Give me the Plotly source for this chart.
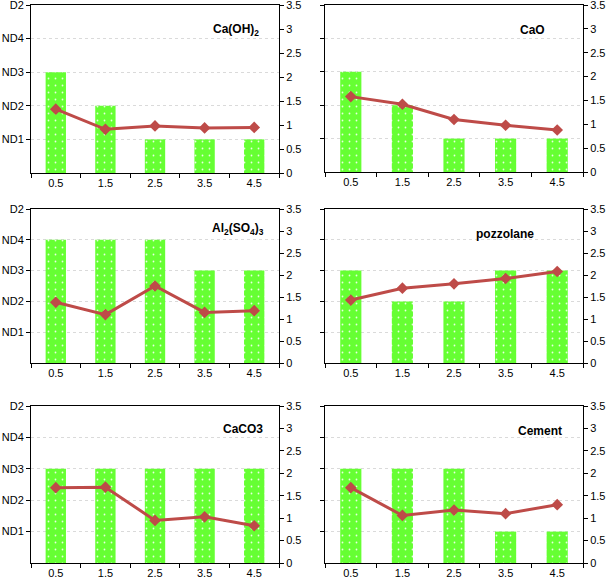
import plotly.graph_objects as go

W, H = 608, 580

X_CATS = ["0.5", "1.5", "2.5", "3.5", "4.5"]
LEVELS = ["ND1", "ND2", "ND3", "ND4", "D2"]
RIGHT_TICKS = [0, 0.5, 1, 1.5, 2, 2.5, 3, 3.5]

titles = ["Ca(OH)<sub>2</sub>", "CaO", "Al<sub>2</sub>(SO<sub>4</sub>)<sub>3</sub>",
          "pozzolane", "CaCO3", "Cement"]

bars_caoh2 = ["ND3", "ND2", "ND1", "ND1", "ND1"]
bars_cao = ["ND3", "ND2", "ND1", "ND1", "ND1"]
bars_al2so43 = ["ND4", "ND4", "ND4", "ND3", "ND3"]
bars_pozzolane = ["ND3", "ND2", "ND2", "ND3", "ND3"]
bars_caco3 = ["ND3", "ND3", "ND3", "ND3", "ND3"]
bars_cement = ["ND3", "ND3", "ND3", "ND1", "ND1"]

line_caoh2 = [1.33, 0.91, 0.98, 0.94, 0.95]
line_cao = [1.58, 1.42, 1.10, 0.98, 0.88]
line_al2so43 = [1.38, 1.10, 1.75, 1.15, 1.19]
line_pozzolane = [1.43, 1.70, 1.80, 1.92, 2.08]
line_caco3 = [1.68, 1.69, 0.95, 1.03, 0.83]
line_cement = [1.68, 1.06, 1.18, 1.10, 1.30]

bars_all = [bars_caoh2, bars_cao, bars_al2so43, bars_pozzolane, bars_caco3, bars_cement]
lines_all = [line_caoh2, line_cao, line_al2so43, line_pozzolane, line_caco3, line_cement]

# panel pixel boxes: (left, right, top, bottom)
boxes = [
    (31, 279, 5, 173), (325, 583, 5, 172),
    (31, 279, 209, 363), (325, 583, 209, 363),
    (31, 279, 406, 563), (325, 583, 406, 563),
]
title_pos = [(236, 30), (532, 30), (238, 229), (505, 234), (243, 429), (540, 431)]

GREEN = "#66FF33"
RED = "#BE4B48"
FONT = "Liberation Sans, Arial, sans-serif"

fig = go.Figure()
layout = dict(width=W, height=H, margin=dict(l=0, r=0, t=0, b=0, autoexpand=False),
              paper_bgcolor="white", plot_bgcolor="white", showlegend=False,
              font=dict(family=FONT, size=11, color="black"))
annotations = []

for i in range(6):
    n = i + 1
    xa = "x" if n == 1 else f"x{n}"
    ya = "y" if n == 1 else f"y{n}"
    yr = f"y{n + 6}"
    l, r, t, b = boxes[i]
    xd = [l / W, r / W]
    yd = [1 - b / H, 1 - t / H]

    bar_y = [LEVELS.index(v) + 1 for v in bars_all[i]]
    fig.add_trace(go.Bar(
        x=X_CATS, y=bar_y, xaxis=xa, yaxis=ya, width=0.41,
        marker=dict(color=GREEN, line=dict(width=0),
                    pattern=dict(shape=".", fgcolor="#E8FFE0", bgcolor=GREEN,
                                 size=7, solidity=0.05, fillmode="replace")),
    ))
    fig.add_trace(go.Scatter(
        x=X_CATS, y=lines_all[i], xaxis=xa, yaxis=yr, mode="lines+markers",
        line=dict(color=RED, width=3),
        marker=dict(symbol="diamond", size=9, color=RED),
    ))

    xkey = "xaxis" if n == 1 else f"xaxis{n}"
    ykey = "yaxis" if n == 1 else f"yaxis{n}"
    layout[xkey] = dict(domain=xd, anchor=ya, type="category", tickson="boundaries",
                        ticks="outside", ticklen=4, tickcolor="black",
                        showline=True, linecolor="black", linewidth=1, mirror=True,
                        showgrid=False, tickfont=dict(size=11), range=[-0.5, 4.5],
                        automargin=False, ticklabeloverflow="allow")
    layout[ykey] = dict(domain=yd, anchor=xa, range=[0, 5],
                        tickvals=[1, 2, 3, 4, 5], ticktext=LEVELS,
                        showticklabels=(i % 2 == 0),
                        ticks="outside", ticklen=4, tickcolor="black",
                        showline=True, linecolor="black", linewidth=1,
                        showgrid=True, gridcolor="#DADADA", griddash="dot",
                        gridwidth=1, zeroline=False, tickfont=dict(size=11),
                        automargin=False, ticklabeloverflow="allow")
    layout[f"yaxis{n + 6}"] = dict(overlaying=ya, side="right", anchor=xa,
                                   range=[0, 3.5], tickvals=RIGHT_TICKS,
                                   ticktext=[f"{v:g}" for v in RIGHT_TICKS],
                                   ticks="outside", ticklen=4, tickcolor="black",
                                   showline=True, linecolor="black", linewidth=1,
                                   showgrid=False, zeroline=False,
                                   tickfont=dict(size=11), automargin=False,
                                   ticklabeloverflow="allow")
    tx, ty = title_pos[i]
    annotations.append(dict(text=f"<b>{titles[i]}</b>", x=tx / W, y=1 - ty / H,
                            xref="paper", yref="paper", showarrow=False,
                            xanchor="center", yanchor="middle",
                            font=dict(size=12, family=FONT, color="black")))

layout["annotations"] = annotations
fig.update_layout(**layout)
fig.write_html("out.html", config={"displayModeBar": False},
               post_script="document.body.style.margin='0';document.body.style.overflow='hidden';")
